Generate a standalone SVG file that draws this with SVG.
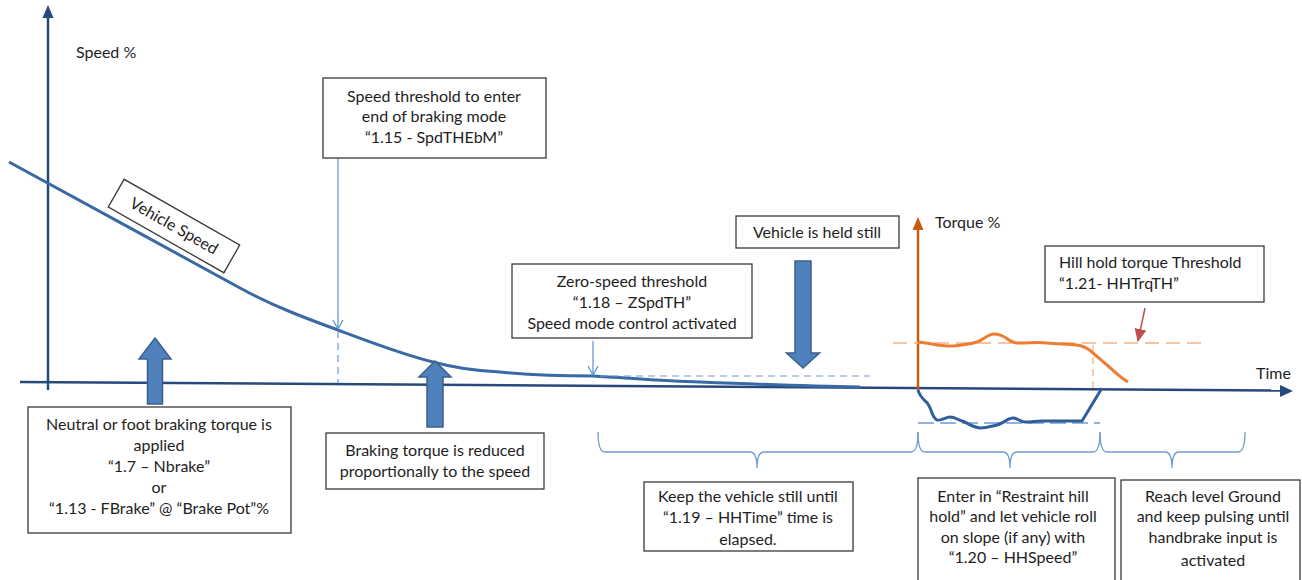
<svg xmlns="http://www.w3.org/2000/svg" width="1302" height="580" viewBox="0 0 1302 580">
<style>
.t{font-family:Lato,"Liberation Sans",sans-serif;font-size:16px;fill:#1e1e1e;text-anchor:middle}
.tl{font-family:Lato,"Liberation Sans",sans-serif;font-size:16px;fill:#1e1e1e}
.box{fill:#fff;stroke:#3a3a3a;stroke-width:1.3}
.blk{fill:#4F81BD;stroke:#3A5F8E;stroke-width:1.5}
.thin{fill:none;stroke:#5B8FD0;stroke-width:1.2}
.dash{fill:none;stroke:#6F9AD3;stroke-width:1.2;stroke-dasharray:7 5}
.brace{fill:none;stroke:#6E9BD3;stroke-width:1.3}
</style>
<defs>
<marker id="open" markerWidth="12" markerHeight="12" refX="10" refY="6" orient="auto" markerUnits="userSpaceOnUse">
<path d="M1,1 L10,6 L1,11" fill="none" stroke="#5B8FD0" stroke-width="1.2"/>
</marker>
<marker id="red" markerWidth="14" markerHeight="14" refX="12" refY="7" orient="auto" markerUnits="userSpaceOnUse">
<path d="M0,1 L13,7 L0,13 Z" fill="#C0504D"/>
</marker>
</defs>

<g id="axes">
<line x1="48" y1="16" x2="48" y2="390" stroke="#264A7C" stroke-width="2.5"/>
<path d="M48,5 L42.5,18 L53.5,18 Z" fill="#264A7C"/>
<line x1="20" y1="382" x2="1282" y2="390.5" stroke="#264A7C" stroke-width="2.5"/>
<path d="M1293,391 L1280,385 L1280,397 Z" fill="#264A7C"/>
<line x1="918" y1="226" x2="918" y2="390" stroke="#C55A11" stroke-width="2.5"/>
<path d="M918,217 L912.5,230 L923.5,230 Z" fill="#C55A11"/>
<text class="tl" x="76" y="58">Speed %</text>
<text class="tl" x="935" y="228">Torque %</text>
<text class="tl" x="1256" y="379">Time</text>
</g>

<g id="curves">
<path d="M9,162 C60,190 180,255 240,288 C273,306 305,318 338,330 C370,342 401,354 433,362 C455,368 478,371 500,372 C531,375 562,376 593,376 C629,378 664,381 700,382 C750,384 800,386 860,387" fill="none" stroke="#3A6AA5" stroke-width="3"/>
<path d="M893,343 L1204,343" fill="none" stroke="#F4B183" stroke-width="1.5" stroke-dasharray="14 7"/>
<path d="M1093,345 L1093,390" fill="none" stroke="#F4B183" stroke-width="1.3" stroke-dasharray="7 5"/>
<path d="M918,342 C930,343 942,347 953,346 C963,345 970,344 977,342 C985,339 988,334 994,334 C1000,334 1003,336 1006,338 C1010,341 1013,343 1018,343 C1030,343 1040,342 1047,343 C1060,344 1070,344 1077,345 C1085,346 1089,349 1093,353 C1099,358 1102,361 1107,365 C1115,372 1120,377 1128,382" fill="none" stroke="#ED7D31" stroke-width="3"/>
<path d="M918,423 L1100,423" fill="none" stroke="#6F9AD3" stroke-width="1.5" stroke-dasharray="16 6"/>
<path d="M918,390 C920,398 926,401 928,404 C932,410 932,418 937,420 C942,421 946,417 950,417 C955,417 958,420 962,421 C968,423 972,427 980,428 C987,428 992,426 997,425 C1004,423 1008,418 1013,418 C1018,418 1020,422 1025,422 C1032,422 1036,421 1042,421 L1082,421 L1102,388" fill="none" stroke="#2F5F9A" stroke-width="3"/>
</g>

<g id="connectors">
<line x1="338" y1="158" x2="338" y2="329" class="thin" marker-end="url(#open)"/>
<line x1="338" y1="331" x2="338" y2="383" class="dash"/>
<line x1="593" y1="341" x2="593" y2="375" class="thin" marker-end="url(#open)"/>
<line x1="600" y1="376" x2="870" y2="376" class="dash"/>
<line x1="1145" y1="308" x2="1138" y2="341" stroke="#C0504D" stroke-width="1.5" marker-end="url(#red)"/>
<path class="brace" d="M598,432 Q598,452 605,452 L750,452 Q757,452 757,468 Q757,452 764,452 L911,452 Q918,452 918,432"/>
<path class="brace" d="M918,432 Q918,452 925,452 L1003,452 Q1010,452 1010,468 Q1010,452 1017,452 L1093,452 Q1100,452 1100,432"/>
<path class="brace" d="M1100,432 Q1100,452 1107,452 L1165,452 Q1172,452 1172,468 Q1172,452 1179,452 L1238,452 Q1245,452 1245,432"/>
</g>

<g id="arrow-up-1"><path class="blk" d="M155,338 L171,359 L162.5,359 L162.5,404 L147.5,404 L147.5,359 L139,359 Z"/></g>
<g id="arrow-up-2"><path class="blk" d="M435,361 L451,377 L443,377 L443,427 L427,427 L427,377 L419,377 Z"/></g>
<g id="arrow-down"><path class="blk" d="M803,368 L786.5,353 L795,353 L795,261 L811,261 L811,353 L819.5,353 Z"/></g>

<g id="box-speed-threshold">
<rect class="box" x="323" y="78" width="223" height="80"/>
<text class="t" x="434" y="102">Speed threshold to enter</text>
<text class="t" x="434" y="122">end of braking mode</text>
<text class="t" x="434" y="143">“1.15 - SpdTHEbM”</text>
</g>

<g id="label-vehicle-speed" transform="translate(174,226) rotate(29.6)">
<rect class="box" x="-66.5" y="-16" width="133" height="32" stroke-width="1"/>
<text class="t" x="0" y="5.5">Vehicle Speed</text>
</g>

<g id="box-zero-speed">
<rect class="box" x="512" y="264" width="240" height="74"/>
<text class="t" x="632" y="287">Zero-speed threshold</text>
<text class="t" x="632" y="308">“1.18 – ZSpdTH”</text>
<text class="t" x="632" y="329">Speed mode control activated</text>
</g>

<g id="box-held-still">
<rect class="box" x="736" y="216" width="163" height="32"/>
<text class="t" x="817" y="238">Vehicle is held still</text>
</g>

<g id="box-hill-hold">
<rect class="box" x="1045" y="246" width="219" height="56"/>
<text class="tl" x="1059" y="268">Hill hold torque Threshold</text>
<text class="tl" x="1059" y="289">“1.21- HHTrqTH”</text>
</g>

<g id="box-neutral">
<rect class="box" x="28" y="407" width="263" height="126"/>
<text class="t" x="159" y="430">Neutral or foot braking torque is</text>
<text class="t" x="159" y="451">applied</text>
<text class="t" x="159" y="472">“1.7 – Nbrake”</text>
<text class="t" x="159" y="493">or</text>
<text class="t" x="159" y="514">“1.13 - FBrake” @ “Brake Pot”%</text>
</g>

<g id="box-braking-reduced">
<rect class="box" x="326" y="433" width="218" height="56"/>
<text class="t" x="435" y="456">Braking torque is reduced</text>
<text class="t" x="435" y="477">proportionally to the speed</text>
</g>

<g id="box-keep-still">
<rect class="box" x="644" y="482" width="209" height="69"/>
<text class="t" x="748" y="502">Keep the vehicle still until</text>
<text class="t" x="748" y="523">“1.19 – HHTime” time is</text>
<text class="t" x="748" y="545">elapsed.</text>
</g>

<g id="box-restraint">
<rect class="box" x="918" y="478" width="197" height="110"/>
<text class="t" x="1013" y="502">Enter in “Restraint hill</text>
<text class="t" x="1013" y="522">hold” and let vehicle roll</text>
<text class="t" x="1013" y="543">on slope (if any) with</text>
<text class="t" x="1013" y="563">“1.20 – HHSpeed”</text>
</g>

<g id="box-level-ground">
<rect class="box" x="1121" y="480" width="179" height="110"/>
<text class="t" x="1213" y="502">Reach level Ground</text>
<text class="t" x="1213" y="522">and keep pulsing until</text>
<text class="t" x="1213" y="543">handbrake input is</text>
<text class="t" x="1213" y="566">activated</text>
</g>
</svg>
